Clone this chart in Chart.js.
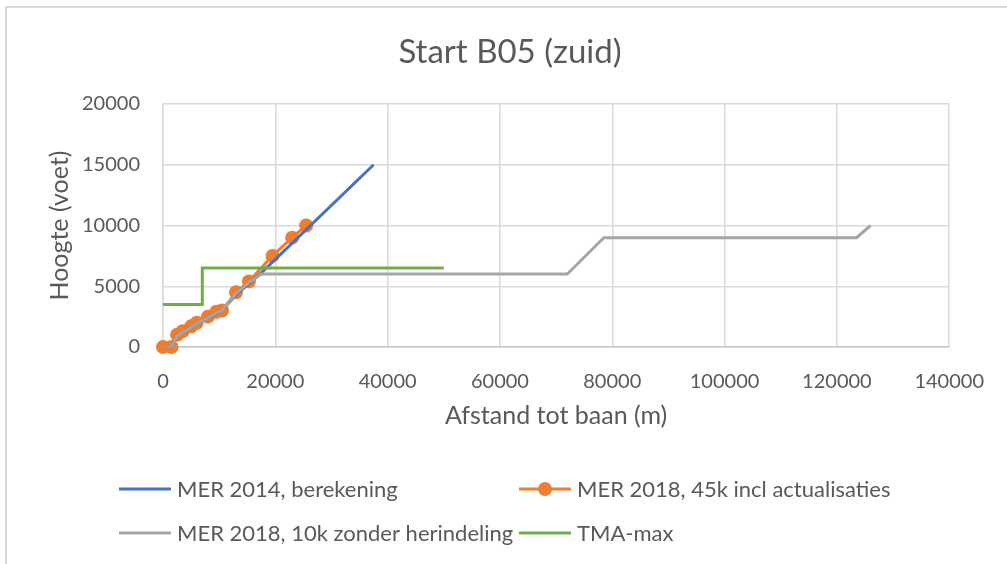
<!DOCTYPE html>
<html><head><meta charset="utf-8">
<script src="https://cdn.jsdelivr.net/npm/chart.js@4/dist/chart.umd.min.js"></script>
<style>
html,body{margin:0;padding:0;background:#fff;overflow:hidden}
#wrap{position:absolute;left:0;top:0;width:1007px;height:564px}
#frame{position:absolute;left:5px;top:6px;width:1010px;height:570px;border-left:2px solid #d9d9d9;border-top:2px solid #d9d9d9;pointer-events:none}
</style></head><body>
<div id="wrap"><canvas id="c" width="1007" height="564"></canvas><div id="frame"></div></div>
<script>
// ---- data ----
const chartTitle = 'Start B05 (zuid)';
const xAxisTitle = 'Afstand tot baan (m)';
const yAxisTitle = 'Hoogte (voet)';
const xTickValues = [0, 20000, 40000, 60000, 80000, 100000, 120000, 140000];
const yTickValues = [0, 5000, 10000, 15000, 20000];
const seriesNames = ['MER 2014, berekening', 'MER 2018, 45k incl actualisaties', 'MER 2018, 10k zonder herindeling', 'TMA-max'];

const mer2014X = [0, 1500, 2500, 5000, 8000, 10500, 13000, 17500, 37500];
const mer2014Y = [0, 0, 900, 1600, 2400, 3000, 4300, 6100, 15000];

const mer2018_45kX = [0, 1500, 2500, 3500, 5000, 6000, 8000, 9500, 10500, 13000, 15300, 19500, 23000, 25500];
const mer2018_45kY = [0, 0, 1000, 1300, 1700, 2000, 2500, 2900, 3000, 4500, 5400, 7500, 9000, 10000];

const mer2018_10kX = [0, 1500, 2500, 3500, 5000, 6000, 8000, 9500, 10500, 13000, 15300, 17500, 72000, 78500, 123500, 126000];
const mer2018_10kY = [0, 0, 900, 1200, 1600, 1900, 2400, 2800, 3000, 4400, 5300, 6000, 6000, 9000, 9000, 10000];

const tmaMaxX = [0, 7000, 7000, 50000];
const tmaMaxY = [3500, 3500, 6500, 6500];

const seriesColors = ['#4472C4', '#ED7D31', '#A5A5A5', '#70AD47'];

// ---- build ----
const toPts = (xs, ys) => xs.map((x, i) => ({x: x, y: ys[i]}));
const FONT = 'Lato, "Liberation Sans", sans-serif';
const TXT = '#595959';

const datasets = [
  {label: seriesNames[0], data: toPts(mer2014X, mer2014Y), borderColor: seriesColors[0], backgroundColor: seriesColors[0], borderWidth: 3, pointRadius: 0, showLine: true, order: 2},
  {label: seriesNames[1], data: toPts(mer2018_45kX, mer2018_45kY), borderColor: seriesColors[1], backgroundColor: seriesColors[1], borderWidth: 3, pointRadius: 7, pointBorderWidth: 0, pointHoverRadius: 7, showLine: true, clip: false, order: 3},
  {label: seriesNames[2], data: toPts(mer2018_10kX, mer2018_10kY), borderColor: seriesColors[2], backgroundColor: seriesColors[2], borderWidth: 3, pointRadius: 0, showLine: true, order: 1},
  {label: seriesNames[3], data: toPts(tmaMaxX, tmaMaxY), borderColor: seriesColors[3], backgroundColor: seriesColors[3], borderWidth: 3, pointRadius: 0, showLine: true, order: 0}
];

const titleAndLegendPlugin = {
  id: 'titleAndLegend',
  afterDraw(chart) {
    const ctx = chart.ctx;
    ctx.save();
    // title
    ctx.font = '33px ' + FONT;
    ctx.fillStyle = TXT;
    ctx.textAlign = 'center';
    ctx.textBaseline = 'middle';
    ctx.fillText(chartTitle, 510, 52);
    // legend (2 x 2 grid)
    const cols = [119, 519];
    const rows = [489, 533];
    ctx.font = '22px ' + FONT;
    ctx.textAlign = 'left';
    chart.data.datasets.forEach((ds, i) => {
      const x = cols[i % 2];
      const y = rows[Math.floor(i / 2)];
      ctx.strokeStyle = ds.borderColor;
      ctx.lineWidth = 3;
      ctx.beginPath();
      ctx.moveTo(x, y);
      ctx.lineTo(x + 52, y);
      ctx.stroke();
      if (ds.pointRadius > 0) {
        ctx.fillStyle = ds.backgroundColor;
        ctx.beginPath();
        ctx.arc(x + 26, y, ds.pointRadius, 0, Math.PI * 2);
        ctx.fill();
      }
      ctx.fillStyle = TXT;
      ctx.fillText(ds.label, x + 58, y + 1);
    });
    ctx.restore();
  }
};

new Chart(document.getElementById('c'), {
  type: 'scatter',
  data: {datasets: datasets},
  options: {
    responsive: false,
    animation: false,
    devicePixelRatio: 1,
    layout: {padding: {left: 0, right: 56, top: 104, bottom: 133}},
    plugins: {
      legend: {display: false},
      tooltip: {enabled: false},
      title: {display: false}
    },
    scales: {
      x: {
        type: 'linear', min: xTickValues[0], max: xTickValues[xTickValues.length - 1],
        afterBuildTicks: s => { s.ticks = xTickValues.map(v => ({value: v})); },
        afterFit: s => { s.height = 84; },
        grid: {color: '#d9d9d9', lineWidth: 1.5, drawTicks: false},
        border: {color: '#c8c8c8', width: 1.5},
        ticks: {color: TXT, font: {family: FONT, size: 20}, padding: 23, maxRotation: 0, autoSkip: false, callback: v => String(v)},
        title: {display: true, text: xAxisTitle, color: TXT, font: {family: FONT, size: 25, lineHeight: 1.2}, padding: {top: 0, bottom: 0}}
      },
      y: {
        type: 'linear', min: yTickValues[0], max: yTickValues[yTickValues.length - 1],
        afterBuildTicks: s => { s.ticks = yTickValues.map(v => ({value: v})); },
        afterFit: s => { s.width = 163; },
        grid: {color: '#d9d9d9', lineWidth: 1.5, drawTicks: false},
        border: {color: '#d9d9d9', width: 1.5},
        ticks: {color: TXT, font: {family: FONT, size: 20}, padding: 23, callback: v => String(v)},
        title: {display: true, text: yAxisTitle, color: TXT, font: {family: FONT, size: 25, lineHeight: 1.2}, padding: {top: 45, bottom: 0}}
      }
    }
  },
  plugins: [titleAndLegendPlugin]
});
</script>
</body></html>
